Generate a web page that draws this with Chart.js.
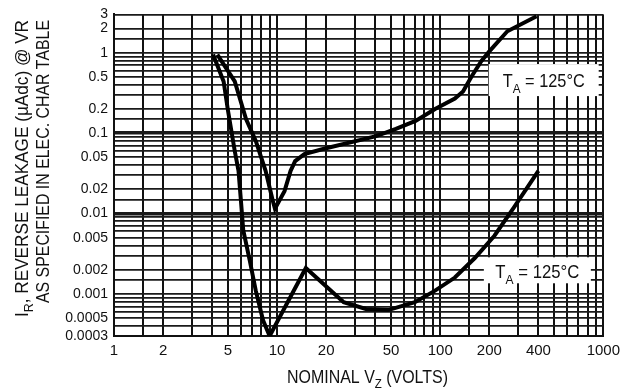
<!DOCTYPE html>
<html>
<head>
<meta charset="utf-8">
<script src="https://cdn.jsdelivr.net/npm/chart.js@4/dist/chart.umd.min.js"></script>
<style>
  html, body { margin: 0; padding: 0; background: #fff; }
  #wrap { width: 626px; height: 389px; position: relative; }
</style>
</head>
<body>
<div id="wrap"><canvas id="grafico"></canvas></div>
<script>
// nominal Vz (volts) / reverse leakage (uAdc)
const lowerV  = [4.05, 4.7, 5.0, 5.5, 5.8, 6.0, 6.2, 6.8, 7.4, 8.2, 9.0, 15, 25.6, 35, 48, 70, 93, 123, 163, 215, 284, 400];
const lowerIr = [0.95, 0.44, 0.19, 0.06, 0.034, 0.0145, 0.0062, 0.0026, 0.0011, 0.00047, 0.0003, 0.0021, 0.00079, 0.00065, 0.00063, 0.00079, 0.0011, 0.0016, 0.0028, 0.0053, 0.012, 0.034];

const upperV  = [4.3, 5.5, 6.45, 7.4, 8.5, 9.4, 9.7, 11.1, 12.1, 12.9, 14.7, 19.4, 40.5, 53.5, 70.6, 93, 123, 138, 156, 179, 200, 258, 390];
const upperIr = [0.95, 0.44, 0.15, 0.08, 0.034, 0.0145, 0.0115, 0.019, 0.034, 0.045, 0.055, 0.064, 0.092, 0.113, 0.142, 0.2, 0.27, 0.33, 0.51, 0.79, 1.04, 1.85, 2.85];

// ticks
const gridSteps = [1, 1.5, 2, 3, 4, 5, 6, 7, 8, 9];
const xLabels = [1, 2, 5, 10, 20, 50, 100, 200, 400, 1000];
const yLabels = [3, 2, 1, 0.5, 0.2, 0.1, 0.05, 0.02, 0.01, 0.005, 0.002, 0.001, 0.0005, 0.0003];
const yHeavy = [0.1, 0.01];

const FONT = "'Liberation Sans', Arial, Helvetica, sans-serif";

function gridValues(min, max) {
    const out = [];
    for (let e = Math.floor(Math.log10(min)); e <= Math.ceil(Math.log10(max)); e++) {
        gridSteps.forEach(m => {
            const v = +(m * Math.pow(10, e)).toPrecision(6);
            if (v >= min && v <= max) out.push(v);
        });
    }
    return out;
}

function pts(xs, ys) {
    return xs.map((x, i) => ({ x: x, y: ys[i] }));
}

// texto condensado, com subscrito, ajustado a um comprimento
function drawFitted(ctx, parts, x, y, length, size, rot, align) {
    ctx.save();
    const big = size + "px " + FONT;
    const small = Math.round(size * 0.72) + "px " + FONT;
    let natural = 0;
    parts.forEach(p => {
        ctx.font = p.sub ? small : big;
        natural += ctx.measureText(p.t).width;
    });
    ctx.translate(x, y);
    ctx.rotate(rot);
    ctx.scale(length / natural, 1);
    let cx = align === "right" ? -natural : 0;
    ctx.fillStyle = "#111";
    ctx.textBaseline = "alphabetic";
    ctx.textAlign = "left";
    parts.forEach(p => {
        ctx.font = p.sub ? small : big;
        ctx.fillText(p.t, cx, p.sub ? size * 0.3 : 0);
        cx += ctx.measureText(p.t).width;
    });
    ctx.restore();
}

const tempLabels = [
    { x: 431, y: 0.457, w: 110, h: 32, len: 82, dy: 4 },
    { x: 394, y: 0.00197, w: 107, h: 26, len: 84, dy: 5 }
];

const textos = {
    id: "textos",
    afterDatasetsDraw(chart) {
        const ctx = chart.ctx;
        const xs = chart.scales.x, ys = chart.scales.y;
        tempLabels.forEach(l => {
            const px = xs.getPixelForValue(l.x);
            const py = ys.getPixelForValue(l.y);
            ctx.fillStyle = "#fff";
            ctx.fillRect(px - l.w / 2, py - l.h / 2, l.w, l.h);
            drawFitted(ctx, [{ t: "T" }, { t: "A", sub: true }, { t: " = 125°C" }],
                px - l.len / 2, py + l.dy + 3, l.len, 18, 0, "left");
        });
    },
    afterDraw(chart) {
        const ctx = chart.ctx;
        drawFitted(ctx, [{ t: "NOMINAL V" }, { t: "Z", sub: true }, { t: " (VOLTS)" }],
            287, 383, 161, 18, 0, "left");
        drawFitted(ctx, [{ t: "I" }, { t: "R", sub: true }, { t: ", REVERSE LEAKAGE (µAdc) @ VR" }],
            28, 20, 297, 18, -Math.PI / 2, "right");
        drawFitted(ctx, [{ t: "AS SPECIFIED IN ELEC. CHAR TABLE" }],
            49, 20, 283, 18, -Math.PI / 2, "right");
    }
};

new Chart(document.getElementById("grafico"), {
    type: "line",
    data: {
        datasets: [
            { data: pts(lowerV, lowerIr), borderColor: "#000", borderWidth: 4, pointRadius: 0, tension: 0 },
            { data: pts(upperV, upperIr), borderColor: "#000", borderWidth: 4, pointRadius: 0, tension: 0 }
        ]
    },
    options: {
        responsive: true,
        maintainAspectRatio: false,
        animation: false,
        layout: { padding: { left: 0, top: 13, right: 17, bottom: 0 } },
        plugins: { legend: { display: false }, tooltip: { enabled: false } },
        scales: {
            x: {
                type: "logarithmic",
                min: 1,
                max: 1000,
                afterBuildTicks: s => { s.ticks = gridValues(1, 1000).map(v => ({ value: v })); },
                afterFit: s => { s.height = 53; },
                ticks: {
                    autoSkip: false,
                    maxRotation: 0,
                    padding: 6,
                    color: "#111",
                    font: { family: FONT, size: 15 },
                    callback: v => xLabels.includes(v) ? String(v) : ""
                },
                grid: { color: "#111", lineWidth: 2, drawTicks: false },
                border: { color: "#111", width: 2 }
            },
            y: {
                type: "logarithmic",
                min: 0.0003,
                max: 3,
                afterBuildTicks: s => { s.ticks = gridValues(0.0003, 3).map(v => ({ value: v })); },
                afterFit: s => { s.width = 114; },
                ticks: {
                    autoSkip: false,
                    padding: 6,
                    color: "#111",
                    font: { family: FONT, size: 14 },
                    callback: v => yLabels.includes(v) ? String(v) : ""
                },
                grid: {
                    color: "#1a1a1a",
                    drawTicks: false,
                    lineWidth: c => yHeavy.includes(c.tick && c.tick.value) ? 3.5 : 1.8
                },
                border: { color: "#111", width: 2 }
            }
        }
    },
    plugins: [textos]
});
</script>
</body>
</html>
